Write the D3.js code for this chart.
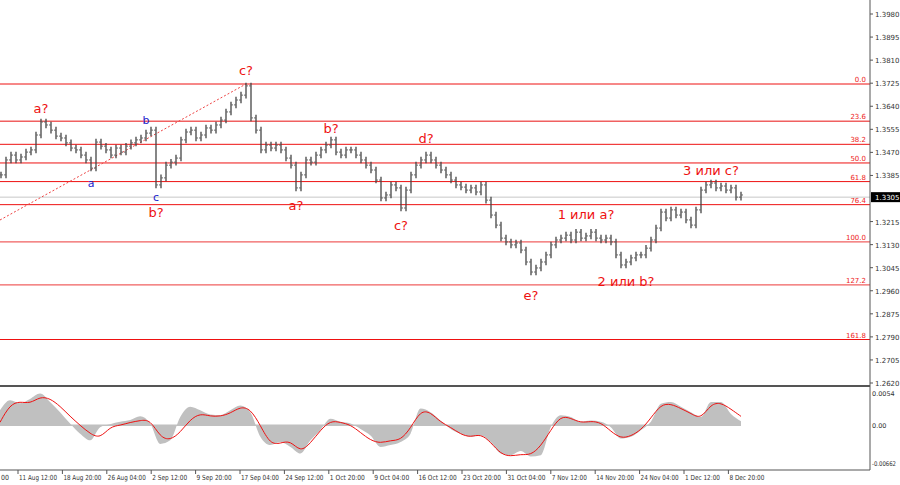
<!DOCTYPE html>
<html><head><meta charset="utf-8">
<script src="https://cdn.jsdelivr.net/npm/d3@7"></script>
<style>body{margin:0;background:#fff}svg{display:block;font-family:Tahoma,"DejaVu Sans",sans-serif}</style>
</head><body><svg id="c" width="900" height="485"></svg>
<script>
const closes=[1.3387,1.3442,1.3460,1.3442,1.3453,1.3471,1.3479,1.3534,1.3582,1.3571,1.3552,1.3530,1.3523,1.3505,1.3486,1.3479,1.3460,1.3442,1.3412,1.3508,1.3493,1.3479,1.3460,1.3486,1.3471,1.3493,1.3505,1.3516,1.3523,1.3541,1.3552,1.3350,1.3376,1.3423,1.3434,1.3449,1.3516,1.3545,1.3552,1.3523,1.3534,1.3560,1.3552,1.3571,1.3589,1.3619,1.3645,1.3663,1.3681,1.3715,1.3597,1.3552,1.3479,1.3497,1.3486,1.3497,1.3479,1.3449,1.3423,1.3339,1.3387,1.3442,1.3434,1.3460,1.3479,1.3497,1.3516,1.3471,1.3460,1.3479,1.3479,1.3460,1.3442,1.3423,1.3405,1.3368,1.3302,1.3313,1.3350,1.3339,1.3265,1.3331,1.3387,1.3423,1.3442,1.3460,1.3442,1.3423,1.3405,1.3387,1.3368,1.3350,1.3342,1.3331,1.3339,1.3324,1.3350,1.3294,1.3239,1.3202,1.3154,1.3140,1.3129,1.3136,1.3110,1.3066,1.3029,1.3044,1.3066,1.3092,1.3129,1.3147,1.3154,1.3165,1.3147,1.3176,1.3154,1.3162,1.3176,1.3154,1.3147,1.3154,1.3140,1.3092,1.3055,1.3066,1.3081,1.3092,1.3092,1.3117,1.3147,1.3191,1.3250,1.3228,1.3258,1.3239,1.3250,1.3221,1.3202,1.3258,1.3331,1.3350,1.3357,1.3339,1.3346,1.3331,1.3339,1.3305,1.3313];
const hist=[0.0025,0.0042,0.0037,0.0044,0.0053,0.0039,0.0022,0.0003,-0.0014,-0.0025,-0.0003,0.0002,0.0006,0.0009,0.0015,0.0003,-0.0031,-0.0025,0.0014,0.0031,0.0025,0.0018,0.0017,0.0025,0.0033,0.0022,-0.0019,-0.0033,-0.0028,-0.0036,-0.0047,-0.0025,-0.0008,0.0011,0.0006,0.0003,-0.0006,-0.0017,-0.0036,-0.0033,-0.0028,-0.0014,0.0028,0.0022,0.0008,-0.0006,-0.0014,-0.0019,-0.0017,-0.0028,-0.0047,-0.0050,-0.0043,-0.0052,-0.0050,-0.0003,0.0017,0.0014,0.0006,0.0008,0.0006,-0.0003,-0.0022,-0.0019,-0.0008,0.0006,0.0036,0.0039,0.0031,0.0022,0.0014,0.0039,0.0039,0.0019,0.0007];
const signal=[0.0005,0.0035,0.0040,0.0036,0.0048,0.0045,0.0032,0.0015,0.0000,-0.0014,-0.0022,-0.0002,0.0000,0.0005,0.0008,0.0010,-0.0020,-0.0025,-0.0012,0.0010,0.0020,0.0015,0.0015,0.0020,0.0031,0.0028,0.0000,-0.0032,-0.0030,-0.0025,-0.0045,-0.0030,-0.0008,0.0008,0.0005,0.0001,-0.0012,-0.0025,-0.0030,-0.0025,-0.0025,-0.0005,0.0025,0.0022,0.0005,-0.0003,-0.0015,-0.0020,-0.0014,-0.0028,-0.0048,-0.0052,-0.0048,-0.0050,-0.0035,-0.0008,0.0016,0.0012,0.0004,0.0007,0.0005,-0.0010,-0.0022,-0.0018,-0.0008,0.0012,0.0035,0.0036,0.0028,0.0020,0.0010,0.0036,0.0038,0.0027,0.0015];
const priceTicks=[1.3980,1.3895,1.3810,1.3725,1.3640,1.3555,1.3470,1.3385,1.3215,1.3130,1.3045,1.2960,1.2875,1.2790,1.2705,1.2620];
const lastPrice=1.3305;
const fibLevels=[0,23.6,38.2,50.0,61.8,76.4,100.0,127.2,161.8];
const fibHigh=1.3722, fibLow=1.3140;
const dateLabels=["00","11 Aug 12:00","18 Aug 20:00","26 Aug 04:00","2 Sep 12:00","9 Sep 20:00","17 Sep 04:00","24 Sep 12:00","1 Oct 20:00","9 Oct 04:00","16 Oct 12:00","23 Oct 20:00","31 Oct 04:00","7 Nov 12:00","14 Nov 20:00","24 Nov 04:00","1 Dec 12:00","8 Dec 20:00"];
const waveLabels=[["a?",8,1.3615,"red"],["b?",31,1.3232,"red"],["c?",49,1.3755,"red"],["a?",59,1.3258,"red"],["b?",66,1.3540,"red"],["c?",80,1.3185,"red"],["d?",85,1.3505,"red"],["e?",106,1.2925,"red"],["1 или a?",117,1.3225,"red"],["2 или b?",125,1.2977,"red"],["3 или c?",142,1.3387,"red"],["a",18,1.3341,"#2222cc"],["b",29,1.3575,"#2222cc"],["c",31,1.3292,"#2222cc"]];

const svg=d3.select("#c");
const R=870;
const x=d3.scaleLinear().domain([0,closes.length-1]).range([1,741]);
const y=d3.scaleLinear().domain([1.2620,1.3980]).range([383,14]);
const yo=d3.scaleLinear().domain([-0.00662,0.0054]).range([465,393]);
const xo=d3.scaleLinear().domain([0,hist.length-1]).range([0,741]);
const g=svg.append("g");
fibLevels.forEach(l=>{
  const p=fibHigh-(fibHigh-fibLow)*l/100;
  const light=[23.6,100,127.2].includes(l);
  g.append("line").attr("x1",0).attr("x2",R).attr("y1",y(p)).attr("y2",y(p)).attr("stroke",light?"#f06060":"#ee1111").attr("stroke-width",light?1.4:1);
  g.append("text").attr("x",866).attr("y",y(p)-2).attr("text-anchor","end").attr("font-size",7).attr("fill","#ee2222").text(l.toFixed(1));
});
g.append("line").attr("x1",0).attr("x2",R).attr("y1",y(lastPrice)).attr("y2",y(lastPrice)).attr("stroke","#c8c8c8");
g.append("line").attr("x1",0).attr("y1",220).attr("x2",x(49)).attr("y2",y(fibHigh)).attr("stroke","#ee4444").attr("stroke-dasharray","2,2");
closes.forEach((c,i)=>{
  const o=i?closes[i-1]:c;
  const hi=Math.max(o,c)+0.0012, lo=Math.min(o,c)-0.0012;
  const xx=x(i);
  g.append("line").attr("x1",xx).attr("x2",xx).attr("y1",y(hi)).attr("y2",y(lo)).attr("stroke","#444").attr("stroke-width",1.3);
  g.append("line").attr("x1",xx-2).attr("x2",xx).attr("y1",y(o)).attr("y2",y(o)).attr("stroke","#666");
  g.append("line").attr("x1",xx).attr("x2",xx+2).attr("y1",y(c)).attr("y2",y(c)).attr("stroke","#666");
});
waveLabels.forEach(([t,i,p,col])=>{
  g.append("text").attr("x",x(i)).attr("y",y(p)).attr("text-anchor","middle").attr("font-size",col==="red"?13:11).attr("fill",col==="red"?"#ee1111":col).text(t);
});
g.append("line").attr("x1",R).attr("x2",R).attr("y1",0).attr("y2",470).attr("stroke","#555");
priceTicks.forEach(p=>{
  g.append("line").attr("x1",R).attr("x2",R+3).attr("y1",y(p)).attr("y2",y(p)).attr("stroke","#555");
  g.append("text").attr("x",875).attr("y",y(p)+3).attr("font-size",7).attr("fill","#333").text(p.toFixed(4));
});
g.append("rect").attr("x",871).attr("y",y(lastPrice)-5).attr("width",29).attr("height",10).attr("fill","#000");
g.append("text").attr("x",875).attr("y",y(lastPrice)+3).attr("font-size",7).attr("fill","#fff").text(lastPrice.toFixed(4));
g.append("rect").attr("x",0).attr("y",385).attr("width",R).attr("height",2).attr("fill","#555");
g.append("line").attr("x1",0).attr("x2",R).attr("y1",470).attr("y2",470).attr("stroke","#555");
g.append("line").attr("x1",0).attr("x2",741).attr("y1",yo(0)).attr("y2",yo(0)).attr("stroke","#c0c0c0").attr("stroke-width",1.5);
g.append("path").datum(hist).attr("d",d3.area().x((d,i)=>xo(i)).y0(yo(0)).y1(d=>yo(d)).curve(d3.curveMonotoneX)).attr("fill","#c0c0c0");
g.append("path").datum(signal).attr("d",d3.line().x((d,i)=>xo(i)).y(d=>yo(d)).curve(d3.curveBasis)).attr("fill","none").attr("stroke","#ee1111").attr("stroke-width",1);
[[0.0054,"0.0054"],[0,"0.00"],[-0.00662,"-0.00662"]].forEach(([v,t])=>{
  g.append("text").attr("x",872).attr("y",Math.min(yo(v)+3,466)).attr("font-size",6.5).attr("fill","#333")
    .attr("textLength",t.length>7?24:null).attr("lengthAdjust","spacingAndGlyphs").text(t);
});
dateLabels.forEach((t,i)=>{
  const xx=-26.4+44.4*i;
  g.append("line").attr("x1",xx).attr("x2",xx).attr("y1",470).attr("y2",474).attr("stroke","#555");
  g.append("text").attr("x",i===0?1:xx+1).attr("y",480).attr("font-size",7).attr("fill","#333")
    .attr("textLength",i===0?8:(t.length>11?38:35)).attr("lengthAdjust","spacingAndGlyphs").text(t);
});
</script></body></html>
